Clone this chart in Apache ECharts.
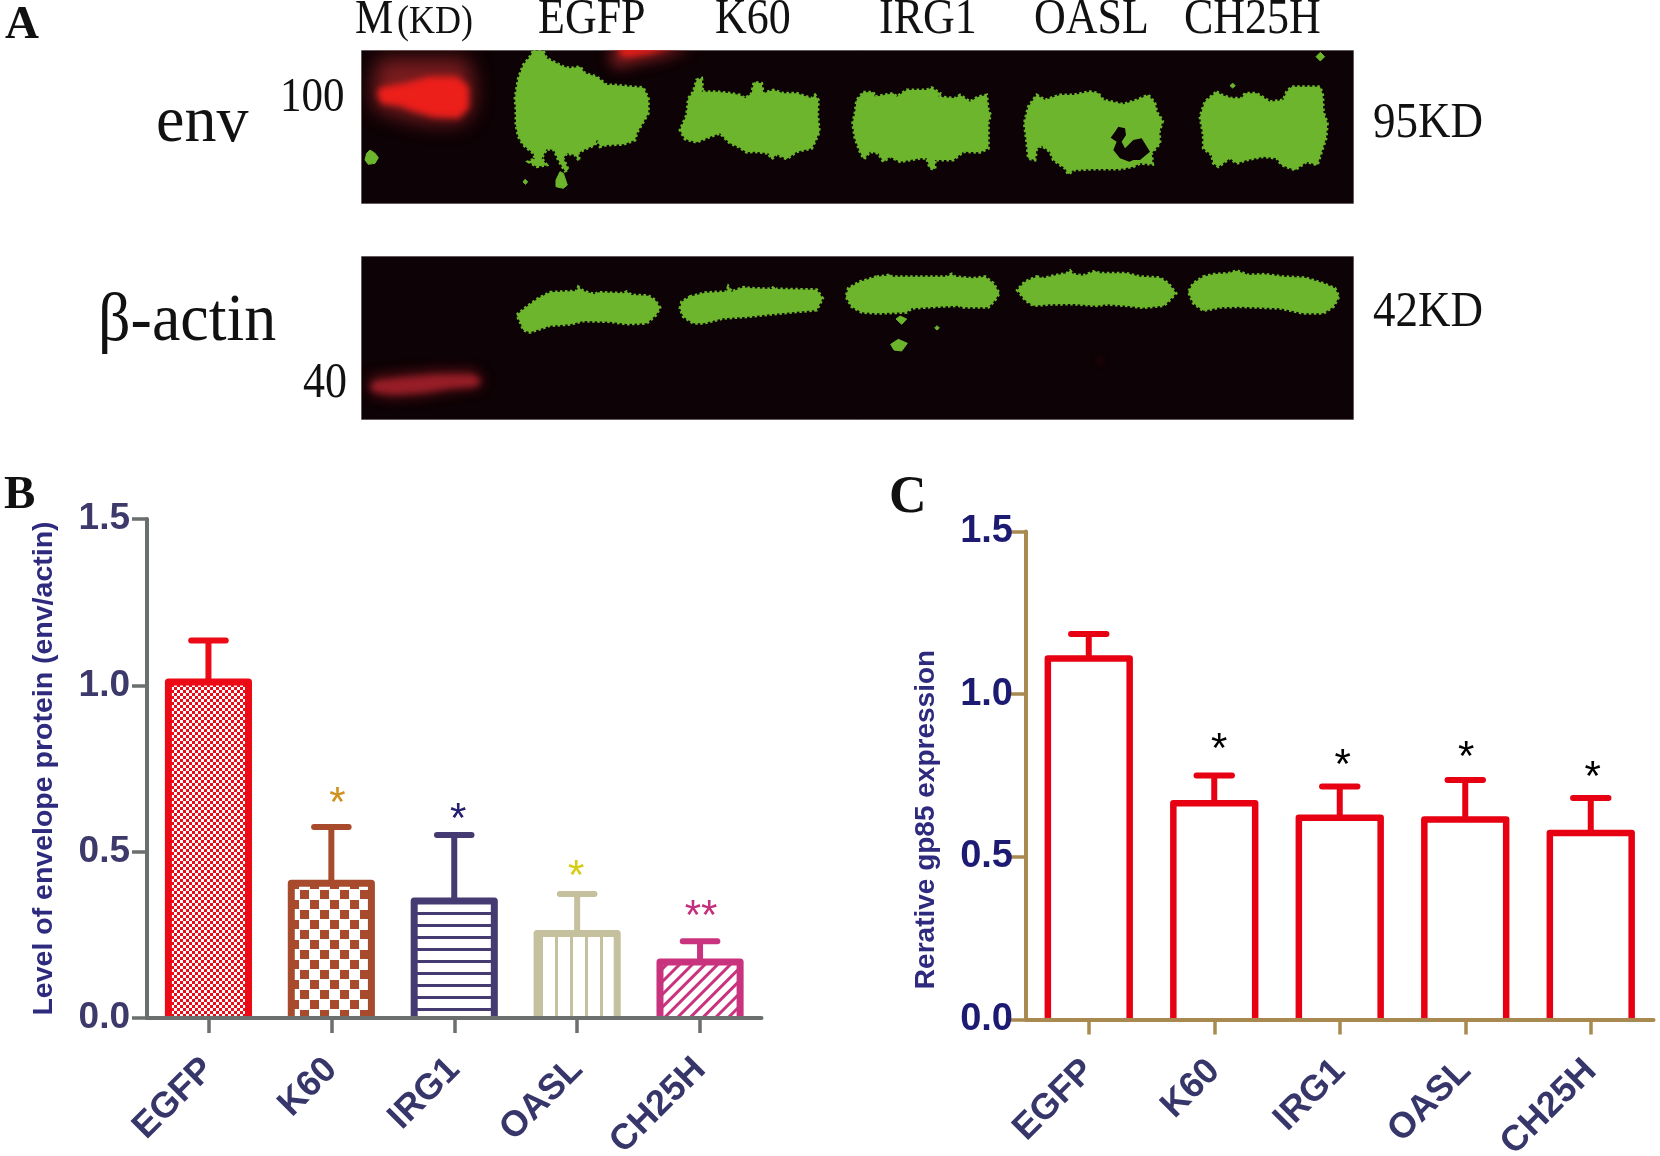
<!DOCTYPE html>
<html>
<head>
<meta charset="utf-8">
<style>html,body{margin:0;padding:0;background:#fff}#c{width:1660px;height:1156px}</style>
<script src="https://cdn.jsdelivr.net/npm/echarts@6/dist/echarts.min.js"></script>
</head>
<body>
<div id="c"></div>
<script>
// ---------- chart data ----------
const categories = ['EGFP','K60','IRG1','OASL','CH25H'];
const yTickLabels = ['0.0','0.5','1.0','1.5'];
const envMeans  = [1.01, 0.405, 0.352, 0.254, 0.168];
const envUppers = [1.135, 0.574, 0.55, 0.373, 0.231];
const envStars  = ['', '*', '*', '*', '**'];
const envStarLevels = [null, 0.667, 0.619, 0.448, 0.325];
const gp85Means  = [1.11, 0.665, 0.62, 0.615, 0.573];
const gp85Uppers = [1.185, 0.75, 0.716, 0.736, 0.681];
const gp85Stars  = ['', '*', '*', '*', '*'];
const gp85StarLevels = [null, 0.853, 0.801, 0.826, 0.767];
const envAxisName = 'Level of envelope protein (env/actin)';
const gp85AxisName = 'Rerative gp85 expression';

// ---------- blot shapes (gel units: 3 units per pixel) ----------
const laneB = 1470;
const move = (pts) => pts.map(p => [p[0] + laneB, p[1]]);
const topBlotFrame = [[33,15],[3012,15],[3012,477],[33,477]];
const lowBlotFrame = [[33,3],[3012,3],[3012,495],[33,495]];
const markerHalo100 = [[85,40],[350,40],[372,120],[365,200],[330,235],[220,232],[130,208],[75,192],[66,130]];
const markerCore100 = [[88,128],[170,113],[235,95],[322,95],[356,125],[356,190],[325,220],[250,216],[182,196],[150,182],[95,176],[82,150]];
const markerHaloTop = [[780,5],[1030,5],[955,35],[860,55],[800,70],[782,55]];
const markerCoreTop = [[805,5],[975,5],[900,26],[830,36],[808,28]];
const envEGFP = [[550,18],[580,18],[590,40],[610,50],[640,65],[660,70],[690,65],[705,85],[740,95],[770,120],[790,120],[840,125],[880,128],[895,160],[895,205],[880,230],[860,265],[855,285],[820,298],[770,300],[750,305],[742,280],[735,300],[700,315],[685,325],[688,348],[675,330],[650,325],[640,340],[655,375],[645,378],[625,345],[612,315],[590,312],[575,340],[590,360],[560,365],[535,350],[555,340],[550,325],[520,300],[505,275],[498,240],[498,190],[495,160],[505,100],[520,60],[540,35]];
const envEGFPa = [[630,380],[640,385],[652,420],[640,430],[618,425],[618,405]];
const envEGFPb = [[525,403],[533,410],[527,418],[519,411]];
const envSpot = [[60,315],[75,325],[85,338],[75,355],[55,358],[45,345],[50,325]];
const envK60 = [[1040,105],[1055,100],[1058,130],[1055,140],[1100,140],[1140,145],[1170,150],[1185,160],[1205,145],[1212,112],[1235,115],[1240,145],[1270,135],[1300,145],[1340,145],[1385,160],[1395,150],[1405,165],[1403,210],[1408,260],[1395,290],[1385,310],[1340,320],[1310,342],[1280,328],[1265,342],[1255,325],[1215,320],[1190,322],[1165,305],[1140,295],[1110,265],[1080,275],[1040,292],[1005,282],[990,255],[1010,210],[1015,160],[1030,140]];
const envIRG1 = move([[70,142],[100,142],[105,155],[160,145],[170,155],[200,135],[260,135],[275,128],[300,145],[295,155],[345,160],[360,150],[390,170],[415,155],[440,150],[445,195],[452,210],[445,230],[445,310],[420,322],[370,320],[340,345],[285,345],[285,372],[270,370],[260,340],[240,340],[180,350],[150,335],[130,350],[115,325],[90,320],[72,342],[60,320],[45,280],[38,235],[45,205],[50,165]]);
const envOASL = move([[590,150],[615,165],[660,150],[700,150],[750,140],[775,145],[790,165],[850,178],[890,165],[925,150],[945,175],[950,200],[968,228],[958,260],[960,295],[935,325],[938,358],[900,355],[880,365],[840,372],[760,372],[700,375],[685,388],[675,370],[640,345],[630,320],[605,302],[590,312],[585,345],[565,340],[560,290],[553,235],[565,185]]);
const envOASLgap = move([[835,245],[855,250],[858,270],[845,290],[855,310],[880,285],[905,280],[930,320],[900,345],[880,345],[868,350],[840,340],[820,315],[830,290],[812,278],[825,260]]);
const envCH25H = move([[1130,140],[1145,150],[1175,160],[1205,160],[1215,145],[1250,145],[1290,170],[1330,165],[1340,140],[1355,125],[1440,125],[1448,150],[1450,200],[1462,235],[1458,280],[1448,310],[1432,360],[1400,350],[1365,375],[1325,360],[1310,340],[1270,335],[1220,345],[1190,355],[1170,340],[1135,365],[1120,355],[1115,330],[1090,310],[1090,270],[1080,215],[1095,170]]);
const envDotA = move([[1178,115],[1186,122],[1178,129],[1170,122]]);
const envDotB = move([[1441,22],[1454,35],[1441,48],[1428,35]]);
const markerHalo40 = [[62,362],[150,352],[260,342],[372,342],[405,375],[385,402],[300,412],[220,426],[130,432],[68,422],[50,395]];
const markerCore40 = [[78,378],[150,370],[260,360],[368,360],[392,376],[378,394],[300,399],[220,412],[130,418],[75,410],[60,395]];
const actEGFP = [[600,112],[680,108],[685,96],[700,108],[735,118],[745,112],[820,115],[830,110],[845,120],[895,122],[915,135],[930,158],[918,180],[890,205],[830,207],[780,200],[700,198],[660,208],[600,212],[540,232],[520,225],[510,200],[500,180],[530,155],[565,130]];
const actK60 = [[1020,125],[1065,113],[1130,110],[1135,95],[1145,110],[1180,97],[1205,100],[1265,102],[1272,95],[1278,102],[1400,104],[1418,130],[1400,165],[1260,178],[1195,185],[1120,190],[1060,205],[1030,205],[1000,185],[990,160],[995,140]];
const actIRG1 = move([[110,65],[140,62],[150,58],[155,65],[320,65],[335,57],[345,65],[400,70],[435,65],[460,85],[478,115],[465,135],[445,157],[370,157],[355,152],[290,155],[215,160],[200,172],[110,175],[65,172],[35,155],[18,125],[25,100],[60,80]]);
const actSpotA = move([[180,183],[200,192],[185,208],[168,192]]);
const actSpotB = move([[175,253],[202,265],[185,288],[162,285],[152,268]]);
const actSpotC = move([[291,212],[298,219],[291,225],[284,219]]);
const actOASL = move([[590,65],[610,70],[640,62],[680,55],[690,47],[700,58],[730,62],[765,48],[780,55],[860,55],[900,65],[960,68],[985,85],[1008,115],[980,145],[970,152],[910,158],[860,152],[800,148],[770,152],[700,147],[630,148],[580,152],[555,135],[532,105],[555,80]]);
const actCH25H = move([[1090,65],[1120,58],[1165,55],[1190,47],[1225,60],[1275,58],[1330,65],[1395,68],[1450,85],[1485,100],[1497,125],[1480,155],[1450,175],[1390,175],[1320,160],[1200,155],[1140,157],[1090,167],[1060,145],[1045,110],[1060,85]]);
const actFaint = move([[780,308],[790,318],[780,328],[770,318]]);

const GEL_BG = '#0d0205', GREEN = '#6cb52c';
const rough = pts => ({pts, fill: GREEN, stroke: GREEN, lw: 3, dash:[2.5,2.5]});
const smooth = pts => ({pts, fill: GREEN, stroke: GREEN, lw: 1});
const glow = (pts, fill, blur) => ({pts, fill, blur});
const topShapes = [
  {pts: topBlotFrame, fill: GEL_BG, stroke:'#b9b2b2', lw:1},
  glow(markerHalo100,'rgba(135,32,34,0.95)',20), glow(markerCore100,'#ec1f1b',6),
  glow(markerHaloTop,'rgba(135,32,34,0.95)',14), glow(markerCoreTop,'#ec1f1b',6),
  rough(envEGFP),smooth(envEGFPa),smooth(envEGFPb),smooth(envSpot),rough(envK60),rough(envIRG1),
  rough(envOASL),{pts: envOASLgap, fill: GEL_BG},rough(envCH25H),smooth(envDotA),smooth(envDotB)
];
const lowShapes = [
  {pts: lowBlotFrame, fill: GEL_BG, stroke:'#b9b2b2', lw:1},
  glow(markerHalo40,'rgba(95,18,24,0.9)',12), glow(markerCore40,'rgba(160,32,42,0.95)',6),
  rough(actEGFP),rough(actK60),rough(actIRG1),smooth(actSpotA),smooth(actSpotB),smooth(actSpotC),
  rough(actOASL),rough(actCH25H),glow(actFaint,'#3a090d',6)
];

// ---------- panel A text: [text, x, baseline, size, bold, stretch] ----------
const panelLabels = [
  ['A',5,39,47,true,1],['B',4,509,47,true,1],['C',889,513,52,true,1],
  ['M',355,34,43,false,1.14],['(KD)',397,34,36,false,1.14],['EGFP',538,34,44,false,1.14],['K60',715,34,44,false,1.14],['IRG1',879,34,44,false,1.14],
  ['OASL',1034,34,44,false,1.14],['CH25H',1184,34,44,false,1.14],
  ['env',156,142,64,false,1.03],['β-actin',98,341,64,false,1.05],
  ['100',280,112,43,false,1.14],['40',303,398,44,false,1.14],['95KD',1373,138,45,false,1.14],['42KD',1373,327,45,false,1.14]
];

// ---------- drawing helpers ----------
const SANS = '"Liberation Sans", Arial, sans-serif';
const SERIF = '"Liberation Serif", "Times New Roman", serif';
const BAR_RATIO = 0.652, CAP_RATIO = 0.33, OFF = 4000;

function gelSeries(shapes, axisIdx){
  return {type:'custom', xAxisIndex:axisIdx, yAxisIndex:axisIdx, clip:true, silent:true,
    data: shapes.map((s,i)=>[i,0]),
    renderItem(params, api){
      const s = shapes[params.dataIndex];
      const pts = s.pts.map(p=>api.coord(p));
      if(s.blur){ // only the soft shadow of an off-canvas shape falls on the blot
        return {type:'polygon', shape:{points:pts.map(p=>[p[0]-OFF,p[1]])},
          style:{fill:s.fill, shadowBlur:s.blur, shadowColor:s.fill, shadowOffsetX:OFF}};
      }
      return {type:'polygon', shape:{points:pts},
        style:{fill:s.fill, stroke:s.stroke||null, lineWidth:s.lw||0, lineDash:s.dash||null}};
    }};
}
function barSeries(means, axisIdx, styles){
  return {type:'bar', xAxisIndex:axisIdx, yAxisIndex:axisIdx, barWidth:(BAR_RATIO*100)+'%', z:2, silent:true,
    data: means.map((v,i)=>({value:v,
      itemStyle:{color:'#fff', decal: styles[i].decal||{symbol:'none',dashArrayX:[0,1],dashArrayY:[0,1],color:'transparent'}}}))};
}
function frameSeries(means, uppers, axisIdx, styles, lw){
  return {type:'custom', xAxisIndex:axisIdx, yAxisIndex:axisIdx, z:3, silent:true,
    data: means.map((v,i)=>[i,v,uppers[i]]),
    encode:{x:0,y:[1,2]},
    renderItem(params, api){
      const i = api.value(0), v = api.value(1), up = api.value(2);
      const band = api.size([1,0])[0];
      const base = api.coord([i,0]), top = api.coord([i,v]), high = api.coord([i,up]);
      const h = band*BAR_RATIO/2, c = band*CAP_RATIO/2, col = styles[i].color;
      const st = {stroke:col, lineWidth:lw, fill:null, lineJoin:'round'};
      return {type:'group', children:[
        {type:'polyline', shape:{points:[[base[0]-h,base[1]],[base[0]-h,top[1]],[base[0]+h,top[1]],[base[0]+h,base[1]]]}, style:st},
        {type:'line', shape:{x1:top[0],y1:top[1],x2:top[0],y2:high[1]}, style:{stroke:col,lineWidth:6}},
        {type:'line', shape:{x1:top[0]-c+3,y1:high[1],x2:top[0]+c-3,y2:high[1]}, style:{stroke:col,lineWidth:6,lineCap:'round'}}
      ]};
    }};
}
function starSeries(marks, levels, axisIdx, colors, nudges){
  return {type:'custom', xAxisIndex:axisIdx, yAxisIndex:axisIdx, z:4, silent:true,
    data: levels.map((v,i)=>[i,v==null?0:v]),
    encode:{x:0,y:1},
    renderItem(params, api){
      const i = api.value(0);
      if(!marks[i]) return null;
      const p = api.coord([i,api.value(1)]);
      return {type:'text', style:{text:marks[i], x:p[0]+nudges[i], y:p[1]+8, align:'center', verticalAlign:'middle',
        font:'42px '+SANS, fill:colors[i]}};
    }};
}
function catAxis(idx, lineColor, labelColor){
  return {type:'category', gridIndex:idx, data:categories, boundaryGap:true, z:5,
    axisLine:{show:true,onZero:false,lineStyle:{color:lineColor,width:4}},
    axisTick:{show:true,alignWithLabel:true,length:15,lineStyle:{color:lineColor,width:3.5}},
    axisLabel:{rotate:45,margin:46,interval:0,fontFamily:SANS,fontWeight:'bold',fontSize:36,color:labelColor}};
}
function valAxis(idx, lineColor, labelColor, size, margin, name, nameStyle, nameGap){
  return {type:'value', gridIndex:idx, min:0, max:1.5, interval:0.5, z:5,
    name, nameLocation:'middle', nameRotate:90, nameGap, nameTextStyle:nameStyle,
    splitLine:{show:false},
    axisLine:{show:true,lineStyle:{color:lineColor,width:4}},
    axisTick:{show:true,length:15,lineStyle:{color:lineColor,width:3.5}},
    axisLabel:{margin,padding:[3,0,0,0],fontFamily:SANS,fontWeight:'bold',fontSize:size,color:labelColor,
      formatter:(v,i)=>yTickLabels[i]}};
}

// ---------- bar styles ----------
const envStyles = [
  {color:'#ec0a16', decal:{symbol:'rect',symbolSize:1,color:'#ec0a16',dashArrayX:[[3,3],[0,3,3,0]],dashArrayY:[3,0]}},
  {color:'#a84b2c', decal:{symbol:'rect',symbolSize:1,color:'#a84b2c',dashArrayX:[[9,11],[0,10,9,1]],dashArrayY:[9,1]}},
  {color:'#453a72', decal:{symbol:'rect',symbolSize:1,color:'#453a72',dashArrayX:[10,0],dashArrayY:[2.2,8.1]}},
  {color:'#c5c09e', decal:{symbol:'rect',symbolSize:1,color:'#c5c09e',dashArrayX:[2.4,11.1],dashArrayY:[10,0]}},
  {color:'#c9337e', decal:{symbol:'rect',symbolSize:1,color:'#c9337e',dashArrayX:[10,0],dashArrayY:[2.6,5.8],rotation:-Math.PI/4}}
];
const gp85Styles = categories.map(()=>({color:'#e60012'}));
const envStarColors = ['', '#d0911e', '#262072', '#d6cc12', '#c4307c'];
const gp85StarColors = ['', '#000','#000','#000','#000'];

const option = {
  animation:false,
  backgroundColor:'#fff',
  grid:[
    {left:147, right:898.5, top:519, bottom:138, containLabel:false, outerBoundsMode:'none'},
    {left:1026, right:6.5, top:531.5, bottom:136.5, containLabel:false, outerBoundsMode:'none'},
    {left:361, width:993, top:50, height:154, outerBoundsMode:'none'},
    {left:361, width:993, top:256, height:164, outerBoundsMode:'none'}
  ],
  xAxis:[
    catAxis(0,'#6b6f6e','#37366a'),
    catAxis(1,'#a8894f','#37366a'),
    {type:'value',gridIndex:2,min:33,max:3012,show:false},
    {type:'value',gridIndex:3,min:33,max:3012,show:false}
  ],
  yAxis:[
    valAxis(0,'#6b6f6e','#3d3a6b',37,17,envAxisName,{fontFamily:SANS,fontWeight:'bold',fontSize:28.5,color:'#2e2a7d'},88),
    valAxis(1,'#a8894f','#1d1a72',38,13,gp85AxisName,{fontFamily:SANS,fontWeight:'bold',fontSize:28,color:'#2e2a7d',padding:[0,88,0,0]},86),
    {type:'value',gridIndex:2,min:15,max:477,inverse:true,show:false},
    {type:'value',gridIndex:3,min:3,max:495,inverse:true,show:false}
  ],
  series:[
    barSeries(envMeans,0,envStyles),
    frameSeries(envMeans,envUppers,0,envStyles,7),
    starSeries(envStars,envStarLevels,0,envStarColors,[0,6,4,-1,1]),
    barSeries(gp85Means,1,gp85Styles),
    frameSeries(gp85Means,gp85Uppers,1,gp85Styles,6.5),
    starSeries(gp85Stars,gp85StarLevels,1,gp85StarColors,[0,5,3,1,2]),
    gelSeries(topShapes,2),
    gelSeries(lowShapes,3)
  ],
  graphic:{elements:panelLabels.map(l=>({type:'text',silent:true,z:10,
    x:l[1], y:l[2], scaleY:l[5],
    style:{text:l[0],x:0,y:-0.28*l[3],align:'left',verticalAlign:'middle',
      font:(l[4]?'bold ':'')+l[3]+'px '+SERIF,fill:'#111'}}))}
};
echarts.init(document.getElementById('c'),null,{renderer:'canvas',width:1660,height:1156}).setOption(option);
</script>
</body>
</html>
